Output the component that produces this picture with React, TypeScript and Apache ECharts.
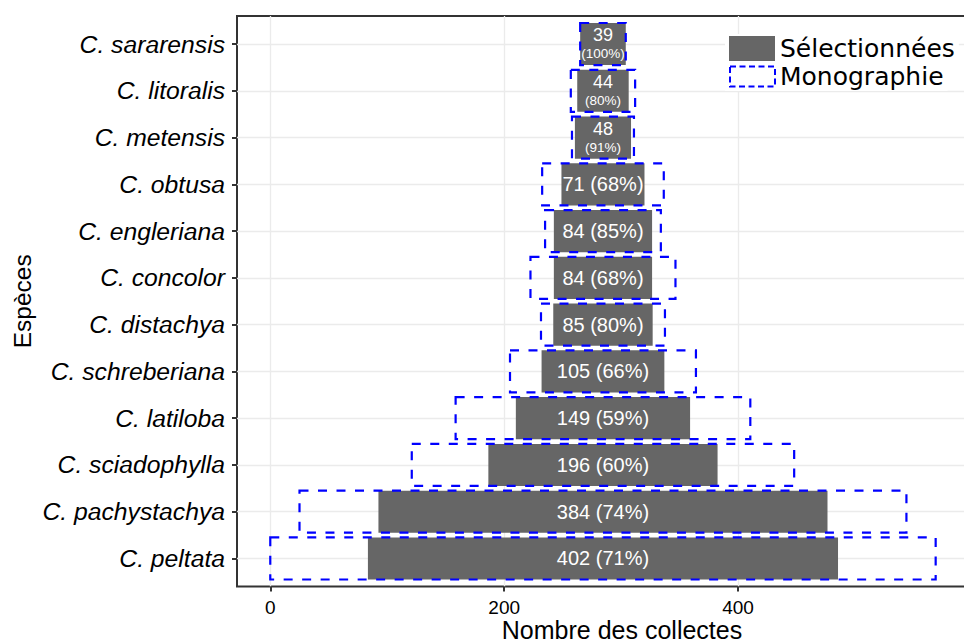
import React, { useEffect, useRef } from "react";
import * as echarts from "echarts";

// ---- data (top to bottom as drawn) ----
const species = [
  "C. sararensis",
  "C. litoralis",
  "C. metensis",
  "C. obtusa",
  "C. engleriana",
  "C. concolor",
  "C. distachya",
  "C. schreberiana",
  "C. latiloba",
  "C. sciadophylla",
  "C. pachystachya",
  "C. peltata",
];
const selected = [39, 44, 48, 71, 84, 84, 85, 105, 149, 196, 384, 402];
const percent = [100, 80, 91, 68, 85, 68, 80, 66, 59, 60, 74, 71];
const monograph = [39, 55, 53, 104, 99, 124, 106, 159, 252, 327, 519, 569];
const xTickValues = [0, 200, 400, 600];
const xLabelValues = [0, 200, 400];

const SEL = "Sélectionnées";
const MONO = "Monographie";

const W = 964;
const H = 643;
const PLOT_LEFT = 237;
const PLOT_TOP = 16;
const PLOT_BOTTOM = 586.5;
const PLOT_RIGHT = 1007;
const CAT_EXPAND = 0.6;
const BAR_FRAC = 0.9;

const maxTotal = Math.max(...monograph);
const center = maxTotal / 2;
const X_MIN = -0.05 * maxTotal;
const X_MAX = 630;

const band = (PLOT_BOTTOM - PLOT_TOP) / (species.length - 1 + 2 * CAT_EXPAND);
const dataTop = PLOT_TOP + CAT_EXPAND * band;
const dataBottom = PLOT_BOTTOM - CAT_EXPAND * band;

const SANS = '"Liberation Sans", Arial, sans-serif';
const DEJAVU = '"DejaVu Sans", sans-serif';

function rectFor(api: any, v: number, ci: number) {
  const a = api.coord([center - v / 2, ci]);
  const b = api.coord([center + v / 2, ci]);
  const h = api.size([0, 1])[1] * BAR_FRAC;
  return { x: a[0], y: a[1] - h / 2, width: b[0] - a[0], height: h, cx: (a[0] + b[0]) / 2, cy: a[1] };
}

function renderSelected(_params: any, api: any) {
  const ci = api.value(0);
  const v = api.value(1);
  const p = api.value(2);
  const r = rectFor(api, v, ci);
  const children: any[] = [
    {
      type: "rect",
      shape: { x: r.x, y: r.y, width: r.width, height: r.height },
      style: { fill: "#666666" },
    },
  ];
  if (v < 60) {
    children.push({
      type: "text",
      x: r.cx,
      y: r.cy - 9,
      style: { text: String(v), fill: "#ffffff", fontSize: 18, fontFamily: SANS, align: "center", verticalAlign: "middle" },
    });
    children.push({
      type: "text",
      x: r.cx,
      y: r.cy + 9.5,
      style: { text: `(${p}%)`, fill: "#ffffff", fontSize: 13.5, fontFamily: SANS, align: "center", verticalAlign: "middle" },
    });
  } else {
    children.push({
      type: "text",
      x: r.cx,
      y: r.cy,
      style: { text: `${v} (${p}%)`, fill: "#ffffff", fontSize: 20, fontFamily: SANS, align: "center", verticalAlign: "middle" },
    });
  }
  return { type: "group", children };
}

function renderMonograph(_params: any, api: any) {
  const ci = api.value(0);
  const v = api.value(1);
  const r = rectFor(api, v, ci);
  return {
    type: "rect",
    shape: { x: r.x, y: r.y, width: r.width, height: r.height },
    style: { fill: "none", stroke: "#0000ff", lineWidth: 2.2, lineDash: [9, 9.5] },
  };
}

export default function App() {
  const ref = useRef<HTMLDivElement>(null);

  useEffect(() => {
    if (!ref.current) return;
    const chart = echarts.init(ref.current, undefined, { renderer: "svg" });
    const tickLine = { color: "#333333", width: 2 };
    const option: any = {
      animation: false,
      backgroundColor: "#ffffff",
      grid: [
        {
          left: PLOT_LEFT,
          top: PLOT_TOP,
          right: W - PLOT_RIGHT,
          bottom: H - PLOT_BOTTOM,
          show: true,
          borderColor: "#333333",
          borderWidth: 2,
          backgroundColor: "transparent",
          containLabel: false,
          outerBoundsMode: "none",
        },
        {
          left: PLOT_LEFT,
          top: dataTop,
          right: W - PLOT_RIGHT,
          bottom: H - dataBottom,
          containLabel: false,
          outerBoundsMode: "none",
        },
      ],
      xAxis: [
        {
          gridIndex: 0,
          type: "value",
          min: X_MIN,
          max: X_MAX,
          axisLine: { show: false, onZero: false },
          axisTick: { show: true, length: 5, lineStyle: tickLine, customValues: xTickValues },
          axisLabel: {
            show: true,
            customValues: xLabelValues,
            margin: 11,
            fontSize: 19,
            fontFamily: SANS,
            color: "#000000",
          },
          splitLine: { show: true, lineStyle: { color: "#ebebeb", width: 1.3 } },
          minorSplitLine: { show: false },
          name: "Nombre des collectes",
          nameLocation: "middle",
          nameGap: 34,
          nameMoveOverlap: false,
          nameTextStyle: { fontSize: 25, lineHeight: 18, fontFamily: SANS, color: "#000000" },
        },
        {
          gridIndex: 1,
          type: "value",
          min: X_MIN,
          max: X_MAX,
          show: false,
          axisLine: { show: false, onZero: false },
          splitLine: { show: false },
        },
      ],
      yAxis: [
        {
          gridIndex: 0,
          type: "value",
          min: 0,
          max: 1,
          show: false,
          axisLine: { show: false, onZero: false },
          splitLine: { show: false },
        },
        {
          gridIndex: 1,
          type: "category",
          data: species,
          inverse: true,
          boundaryGap: false,
          axisLine: { show: false, onZero: false },
          axisTick: { show: true, length: 5, interval: 0, lineStyle: tickLine },
          axisLabel: {
            interval: 0,
            margin: 12,
            fontSize: 24.7,
            fontStyle: "italic",
            fontFamily: SANS,
            color: "#000000",
          },
          splitLine: { show: true, interval: 0, lineStyle: { color: "#ebebeb", width: 1.3 } },
          name: "Espèces",
          nameLocation: "middle",
          nameRotate: 90,
          nameGap: 202,
          nameMoveOverlap: false,
          nameTextStyle: { fontSize: 24.5, fontFamily: SANS, color: "#000000" },
        },
      ],
      legend: [
        {
          data: [{ name: SEL, icon: "rect", itemStyle: { color: "#666666", borderWidth: 0 } }],
          left: 725,
          top: 34,
          orient: "vertical",
          itemWidth: 46,
          itemHeight: 25,
          padding: [2, 4, 2, 4],
          backgroundColor: "#ffffff",
          selectedMode: false,
          textStyle: { fontSize: 25, fontFamily: DEJAVU, color: "#000000", padding: [0, 0, 5, 0] },
        },
        {
          data: [
            {
              name: MONO,
              icon: "rect",
              itemStyle: { color: "rgba(0,0,0,0)", borderColor: "#0000ff", borderWidth: 2, borderType: [6, 3.5] },
            },
          ],
          left: 725,
          top: 62,
          orient: "vertical",
          itemWidth: 45,
          itemHeight: 20,
          padding: [2, 4, 2, 4],
          backgroundColor: "#ffffff",
          selectedMode: false,
          textStyle: { fontSize: 25, fontFamily: DEJAVU, color: "#000000" },
        },
      ],
      series: [
        {
          name: SEL,
          type: "custom",
          xAxisIndex: 1,
          yAxisIndex: 1,
          z: 2,
          itemStyle: { color: "#666666" },
          encode: { x: 1, y: 0 },
          data: species.map((s, i) => [s, selected[i], percent[i]]),
          renderItem: renderSelected,
        },
        {
          name: MONO,
          type: "custom",
          xAxisIndex: 1,
          yAxisIndex: 1,
          z: 3,
          itemStyle: { color: "rgba(0,0,0,0)", borderColor: "#0000ff" },
          encode: { x: 1, y: 0 },
          data: species.map((s, i) => [s, monograph[i]]),
          renderItem: renderMonograph,
        },
      ],
    };
    chart.setOption(option);
    return () => chart.dispose();
  }, []);

  return (
    <div
      ref={ref}
      style={{ position: "fixed", left: 0, top: 0, width: W, height: H, background: "#fff" }}
    />
  );
}
